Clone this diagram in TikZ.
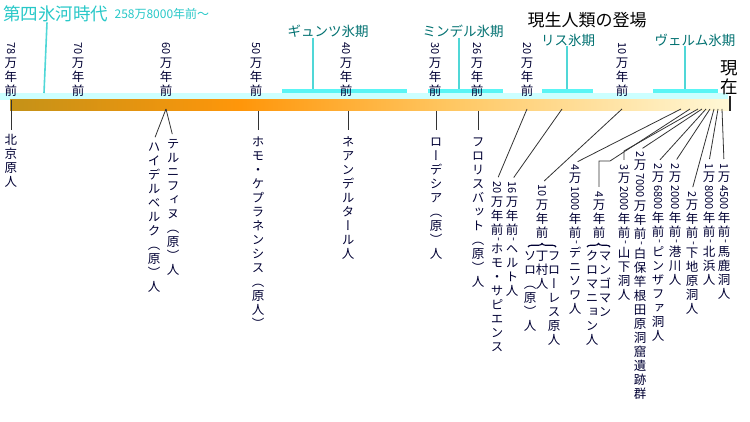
\documentclass[tikz,border=0pt]{standalone}
\usepackage{fontspec}
\usepackage{graphicx}
\usetikzlibrary{positioning,decorations.pathreplacing}
\setmainfont{Noto Sans CJK JP}
\newfontfamily\yoko{Noto Sans CJK JP}
\newfontfamily\tate[RawFeature=+vert]{Noto Sans CJK JP}
\definecolor{inkblue}{RGB}{0,0,51}
\definecolor{titlecyan}{RGB}{40,200,200}
\definecolor{iceteal}{RGB}{0,112,112}
\definecolor{icepale}{RGB}{204,255,255}
\definecolor{icebar}{RGB}{90,245,245}
\definecolor{iceline}{RGB}{80,215,215}
\definecolor{eragold}{RGB}{196,146,24}
\definecolor{eraorange}{RGB}{255,150,10}
\definecolor{eralight}{RGB}{255,200,100}
\definecolor{erapale}{RGB}{255,248,215}
% the path box takes the middle 25bp--75bp of the shading
\pgfdeclarehorizontalshading{era}{100bp}{color(0bp)=(eragold); color(25bp)=(eragold); color(41bp)=(eraorange); color(56bp)=(eralight); color(75bp)=(erapale); color(100bp)=(erapale)}

% vertical (tategaki) label: \nm{..} marks a number set on its side
\newcommand\nm[1]{#1}
\def\vtstop{\vtstop}
\newcommand\vt[1]{\vbox{\offinterlineskip\vtloop#1\vtstop}}
\def\vtloop{\futurelet\vtnext\vtcheck}
\def\vtcheck{\ifx\vtnext\vtstop\let\vtgo\vtend\else\ifx\vtnext\nm\let\vtgo\vtnum\else\let\vtgo\vtchar\fi\fi\vtgo}
\def\vtend\vtstop{}
\def\vtnum\nm#1{\hbox to 14pt{\hss\rotatebox[origin=c]{-90}{\yoko\fontsize{11}{12}\selectfont\kern1pt#1\kern1pt}\hss}\vtloop}
\def\vtchar#1{\hbox to 14pt{\hss\vrule height 11.6pt depth 2.4pt width 0pt\relax#1\hss}\vtloop}

\begin{document}
\begin{tikzpicture}[x=1pt, y=-1pt,
  vlab/.style={anchor=north, inner sep=0pt, text=inkblue, font=\tate\fontsize{12.5}{14}\selectfont},
  glab/.style={inner sep=0pt, text=iceteal, font=\fontsize{13.5}{14}\selectfont},
  link/.style={draw=black!80, line width=0.8pt, shorten >=3pt},
  iceln/.style={draw=iceline, line width=1.6pt},
  bracket/.style={draw=inkblue, line width=1.1pt, decorate, decoration={brace, amplitude=3.5pt}}]
\useasboundingbox (0,0) rectangle (750,422);

% Time band
\fill[icepale] (0,93) rectangle (728,100);
\shade[shading=era] (10,100) rectangle (730,111);
\foreach \a/\b in {282/407, 428/503, 542/593, 653/718}
  \fill[icebar] (\a,89) rectangle (\b,93);
\draw[black!85, line width=1.8pt] (730,96) -- (730,111);

% Title
\node[anchor=west, inner sep=0pt, text=titlecyan, font=\fontsize{17.5}{18}\selectfont] (title) at (3,14) {第四氷河時代};
\node[right=6pt of title, inner sep=0pt, text=titlecyan, font=\fontsize{12}{13}\selectfont] (since) {258万8000年前～};
\coordinate (iceq) at (44,93);
\draw[iceln] (title.south -| 47,0) -- (iceq);

\node[font=\fontsize{17}{18}\selectfont] (modern) at (587,20) {現生人類の登場};
\node[anchor=south, inner sep=0pt, align=center, font=\fontsize{17.5}{18.5}\selectfont] (now) at (729,95) {現\\在};

% Glacial periods
\node[glab] (gunz) at (328,31) {ギュンツ氷期};
\node[glab] (mindel) at (463,31) {ミンデル氷期};
\node[glab] (riss) at (568,40) {リス氷期};
\node[glab] (wurm) at (695,40) {ヴェルム氷期};
\foreach \g/\x in {gunz/313, mindel/459, riss/567, wurm/685} {
  \coordinate (ice\g) at (\x,89);
  \draw[iceln] (\g.south -| ice\g) -- (ice\g);
}

% Scale
\foreach \x/\yr in {11/78, 78/70, 166/60, 256/50, 346/40, 435/30, 477/26, 527/20, 622/10}
  \node[vlab, anchor=south] (t\yr) at (\x,98) {\vt{\nm{\yr}万年前}};

% Finds
\node[vlab] (pekin) at (11,133) {\vt{北京原人}};
\node[vlab] (terni) at (173,137) {\vt{テルニフィヌ（原）人}};
\node[vlab] (heidel) at (154,140) {\vt{ハイデルベルク（原）人}};
\node[vlab] (kepra) at (258,135) {\vt{ホモ・ケプラネンシス（原人）}};
\node[vlab] (neander) at (348,135) {\vt{ネアンデルタール人}};
\node[vlab] (rhodes) at (436,135) {\vt{ローデシア（原）人}};
\node[vlab] (floris) at (478,135) {\vt{フロリスバット（原）人}};
\node[vlab] (sapiens) at (497,180) {\vt{\nm{20}万年前\nm{-}ホモ・サピエンス}};
\node[vlab] (herto) at (512,180) {\vt{\nm{16}万年前\nm{-}ヘルト人}};
\node[vlab] (ten) at (542,183) {\vt{\nm{10}万年前}};
\draw[bracket] (528,247) -- (556,247);
\node[vlab] (solo) at (530,249) {\vt{ソロ（原）人}};
\node[vlab] (dingcun) at (542,249) {\vt{丁村人}};
\node[vlab] (flores) at (554,249) {\vt{フローレス原人}};
\node[vlab] (denisova) at (575,163) {\vt{\nm{4}万\nm{1000}年前\nm{-}デニソワ人}};
\node[vlab] (four) at (599,190) {\vt{\nm{4}万年前}};
\draw[bracket] (587,247) -- (610,247);
\node[vlab] (cromagnon) at (592,249) {\vt{クロマニョン人}};
\node[vlab] (mungo) at (605,249) {\vt{マンゴマン}};
\node[vlab] (yamashita) at (624,163) {\vt{\nm{3}万\nm{2000}年前\nm{-}山下洞人}};
\node[vlab] (shiraho) at (640,150) {\vt{\nm{2}万\nm{7000}万年前\nm{-}白保竿根田原洞窟遺跡群}};
\node[vlab] (pinza) at (658,162) {\vt{\nm{2}万\nm{6800}年前\nm{-}ピンザファ洞人}};
\node[vlab] (minato) at (675,162) {\vt{\nm{2}万\nm{2000}年前\nm{-}港川人}};
\node[vlab] (shimoji) at (692,190) {\vt{\nm{2}万年前\nm{-}下地原洞人}};
\node[vlab] (kitahama) at (709,162) {\vt{\nm{1}万\nm{8000}年前\nm{-}北浜人}};
\node[vlab] (bakado) at (724,162) {\vt{\nm{1}万\nm{4500}年前\nm{-}馬鹿洞人}};

% Connectors
\coordinate (bandpekin) at (11,100);
\draw[link] (bandpekin) -- (pekin.north);
\coordinate (band60) at (166,109);
\draw[link] (band60) -- (terni.north);
\draw[link] (band60) -- (heidel.north);
\foreach \lab in {kepra, neander, rhodes, floris} {
  \coordinate (band\lab) at (\lab.north |- 0,111);
  \draw[link, shorten >=5pt] (band\lab) -- (\lab.north);
}
\foreach \b/\lab in {527/sapiens, 562/herto, 622/ten, 681/denisova, 702/shiraho, 706/pinza, 710/minato, 714/shimoji, 718/kitahama, 722/bakado} {
  \coordinate (band\lab) at (\b,109);
  \draw[link] (band\lab) -- (\lab.north);
}
\coordinate (bandfour) at (690,109);
\draw[link] (bandfour) -- (610,161) -| (four.north);
\coordinate (bandyamashita) at (698,109);
\draw[link] (bandyamashita) -- (yamashita.north |- 0,151) -- (yamashita.north);
\end{tikzpicture}
\end{document}
